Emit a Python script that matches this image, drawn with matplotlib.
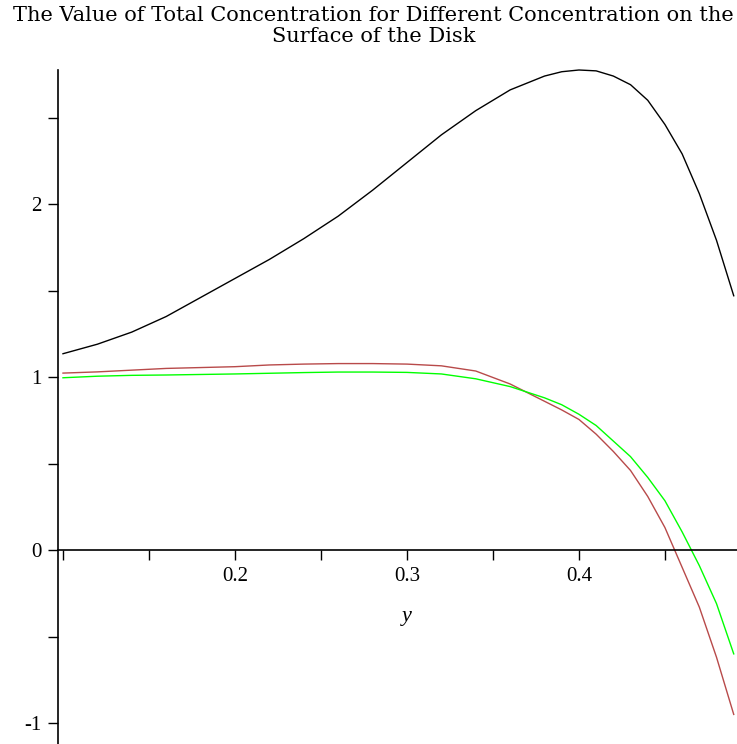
#!/usr/bin/env python3

import matplotlib
matplotlib.use('Agg')
import matplotlib.pyplot as plt  # type: ignore
from matplotlib.ticker import MultipleLocator, FixedLocator  # type: ignore

# values
y_pos = [0.10, 0.12, 0.14, 0.16, 0.18, 0.20, 0.22, 0.24, 0.26, 0.28,
         0.30, 0.32, 0.34, 0.36, 0.38, 0.39, 0.40, 0.41, 0.42, 0.43,
         0.44, 0.45, 0.46, 0.47, 0.48, 0.49]

total_conc = [1.135, 1.19, 1.26, 1.35, 1.46, 1.57, 1.68, 1.80, 1.93, 2.08,
              2.24, 2.40, 2.54, 2.66, 2.74, 2.765, 2.775, 2.77, 2.74, 2.69,
              2.60, 2.46, 2.29, 2.06, 1.79, 1.47]

conc_red = [1.023, 1.03, 1.04, 1.05, 1.055, 1.06, 1.07, 1.075, 1.078, 1.078,
            1.075, 1.065, 1.035, 0.96, 0.86, 0.81, 0.755, 0.67, 0.57, 0.46,
            0.31, 0.13, -0.10, -0.33, -0.62, -0.95]

conc_green = [0.996, 1.005, 1.01, 1.012, 1.015, 1.018, 1.022, 1.026, 1.029,
              1.029, 1.027, 1.018, 0.99, 0.945, 0.88, 0.84, 0.785, 0.72,
              0.63, 0.54, 0.42, 0.285, 0.105, -0.09, -0.31, -0.60]

title = ('The Value of Total Concentration for Different Concentration on the\n'
         'Surface of the Disk')

plt.rcParams['axes.unicode_minus'] = False


def plot_concentration(filename: str):
    fig = plt.figure(figsize=(7.37, 7.44), dpi=100)
    ax = fig.add_axes([58 / 737, 0.0, 1 - 58 / 737, 1 - 70 / 744])

    ax.plot(y_pos, total_conc, color='black', lw=1.0, clip_on=False)
    ax.plot(y_pos, conc_red, color='#b84a4a', lw=1.0, clip_on=False)
    ax.plot(y_pos, conc_green, color='#00ff00', lw=1.0, clip_on=False)

    xmin, xmax = 0.0971, 0.4919
    ymin, ymax = -1.121, 2.775
    ax.set_xlim(xmin, xmax)
    ax.set_ylim(ymin, ymax)

    for side in ['top', 'right']:
        ax.spines[side].set_visible(False)
    ax.spines['bottom'].set_position(('data', 0))
    ax.spines['bottom'].set_linewidth(1.2)
    ax.spines['left'].set_linewidth(1.2)

    ax.xaxis.set_major_locator(FixedLocator([0.2, 0.3, 0.4]))
    ax.xaxis.set_minor_locator(FixedLocator([0.1, 0.15, 0.25, 0.35, 0.45]))
    ax.yaxis.set_major_locator(FixedLocator([-1, 0, 1, 2]))
    ax.yaxis.set_minor_locator(MultipleLocator(0.5))
    ax.tick_params(axis='x', which='both', direction='out', length=7,
                   width=1.0, pad=5, labelsize=15)
    ax.tick_params(axis='y', which='both', direction='out', length=7,
                   width=1.0, pad=5, labelsize=15)
    for lbl in ax.get_xticklabels() + ax.get_yticklabels():
        lbl.set_family('Liberation Serif')

    ax.set_xlabel('y', fontsize=16, family='Liberation Serif',
                  style='italic')
    ax.xaxis.set_label_coords((0.3 - xmin) / (xmax - xmin),
                              (0 - ymin) / (ymax - ymin) - 0.085)

    fig.text(0.507, 1 - 6 / 744, title, ha='center', va='top',
             fontsize=15, family='DejaVu Serif', linespacing=1.12)

    fig.savefig(filename, dpi=100)


if __name__ == '__main__':
    plot_concentration('out.png')
